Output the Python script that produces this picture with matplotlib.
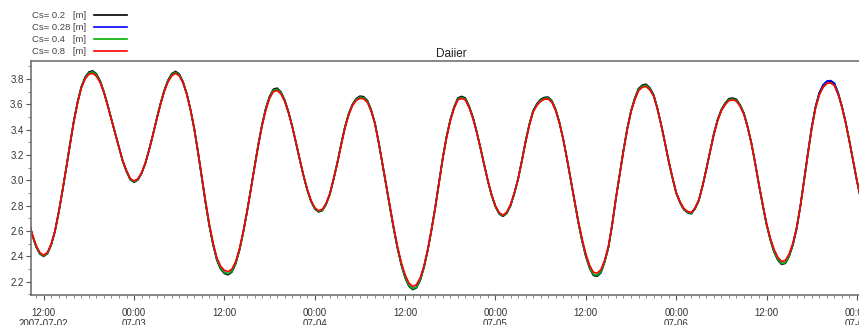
import matplotlib
matplotlib.use('Agg')
import matplotlib.pyplot as plt
import matplotlib.dates as mdates
from matplotlib.ticker import MultipleLocator, FuncFormatter
import pandas as pd

plt.rcParams['font.family'] = ['Liberation Sans', 'DejaVu Sans']

# half-hourly water level, starting 2007-07-02 10:00
start_time = '2007-07-02 10:00'

cs_02 = [2.683, 2.565, 2.476, 2.419, 2.40, 2.422, 2.49, 2.60, 2.75, 2.92, 3.10, 3.29,
         3.47, 3.62, 3.74, 3.815, 3.855, 3.865, 3.841, 3.785, 3.70, 3.594, 3.48, 3.37,
         3.26, 3.15, 3.07, 3.005, 2.985, 3.003, 3.055, 3.136, 3.241, 3.36, 3.485, 3.605,
         3.709, 3.79, 3.842, 3.86, 3.84, 3.78, 3.685, 3.558, 3.406, 3.22, 3.02, 2.82,
         2.64, 2.49, 2.37, 2.30, 2.265, 2.255, 2.277, 2.343, 2.449, 2.588, 2.75, 2.927,
         3.11, 3.284, 3.442, 3.571, 3.664, 3.719, 3.728, 3.699, 3.636, 3.543, 3.428, 3.299,
         3.166, 3.038, 2.925, 2.835, 2.775, 2.751, 2.761, 2.81, 2.89, 3.01, 3.14, 3.285,
         3.42, 3.525, 3.60, 3.645, 3.665, 3.66, 3.63, 3.555, 3.45, 3.295, 3.126, 2.954,
         2.78, 2.613, 2.46, 2.331, 2.231, 2.165, 2.138, 2.152, 2.21, 2.311, 2.446, 2.608,
         2.786, 2.985, 3.18, 3.345, 3.48, 3.58, 3.65, 3.663, 3.65, 3.587, 3.50, 3.386,
         3.257, 3.122, 2.993, 2.879, 2.791, 2.735, 2.716, 2.74, 2.80, 2.895, 3.01, 3.155,
         3.31, 3.445, 3.55, 3.605, 3.64, 3.655, 3.657, 3.628, 3.56, 3.457, 3.324, 3.169,
         3.002, 2.832, 2.668, 2.521, 2.399, 2.308, 2.25, 2.243, 2.27, 2.355, 2.47, 2.65,
         2.86, 3.05, 3.24, 3.41, 3.55, 3.65, 3.725, 3.752, 3.759, 3.73, 3.677, 3.57,
         3.44, 3.30, 3.15, 3.02, 2.90, 2.825, 2.77, 2.745, 2.736, 2.775, 2.84, 2.955,
         3.09, 3.23, 3.37, 3.48, 3.56, 3.61, 3.645, 3.65, 3.64, 3.595, 3.53, 3.42,
         3.29, 3.13, 2.96, 2.80, 2.65, 2.53, 2.434, 2.37, 2.337, 2.345, 2.40, 2.49,
         2.62, 2.80, 3.01, 3.22, 3.42, 3.58, 3.69, 3.75, 3.78, 3.785, 3.765, 3.69,
         3.587, 3.46, 3.31, 3.155, 2.996, 2.855, 2.725]

cs_028 = [2.683, 2.566, 2.478, 2.422, 2.404, 2.425, 2.492, 2.60, 2.75, 2.92, 3.10, 3.287,
          3.467, 3.616, 3.735, 3.808, 3.847, 3.857, 3.833, 3.779, 3.697, 3.593, 3.48, 3.37,
          3.26, 3.152, 3.072, 3.008, 2.989, 3.006, 3.057, 3.136, 3.241, 3.358, 3.483, 3.60,
          3.704, 3.784, 3.835, 3.852, 3.833, 3.775, 3.683, 3.558, 3.406, 3.22, 3.022, 2.823,
          2.644, 2.495, 2.376, 2.307, 2.272, 2.262, 2.283, 2.348, 2.452, 2.59, 2.75, 2.927,
          3.108, 3.28, 3.437, 3.565, 3.657, 3.711, 3.72, 3.692, 3.631, 3.54, 3.428, 3.299,
          3.166, 3.038, 2.926, 2.837, 2.778, 2.755, 2.765, 2.813, 2.891, 3.01, 3.14, 3.283,
          3.418, 3.521, 3.595, 3.638, 3.657, 3.652, 3.623, 3.55, 3.448, 3.295, 3.127, 2.955,
          2.782, 2.616, 2.464, 2.336, 2.237, 2.171, 2.144, 2.158, 2.215, 2.315, 2.448, 2.609,
          2.786, 2.984, 3.177, 3.341, 3.476, 3.574, 3.642, 3.655, 3.642, 3.58, 3.496, 3.384,
          3.257, 3.123, 2.994, 2.881, 2.794, 2.739, 2.72, 2.744, 2.803, 2.897, 3.01, 3.153,
          3.307, 3.441, 3.546, 3.598, 3.632, 3.647, 3.649, 3.621, 3.555, 3.454, 3.324, 3.169,
          3.003, 2.835, 2.671, 2.526, 2.405, 2.315, 2.257, 2.25, 2.277, 2.36, 2.472, 2.651,
          2.86, 3.048, 3.237, 3.406, 3.546, 3.643, 3.717, 3.744, 3.751, 3.722, 3.671, 3.568,
          3.44, 3.30, 3.152, 3.022, 2.902, 2.828, 2.774, 2.749, 2.741, 2.778, 2.842, 2.955,
          3.088, 3.228, 3.366, 3.476, 3.555, 3.603, 3.637, 3.642, 3.632, 3.589, 3.525, 3.418,
          3.29, 3.132, 2.962, 2.804, 2.654, 2.535, 2.44, 2.376, 2.342, 2.35, 2.405, 2.495,
          2.62, 2.80, 3.01, 3.22, 3.42, 3.58, 3.69, 3.752, 3.783, 3.788, 3.768, 3.692,
          3.587, 3.46, 3.31, 3.155, 2.996, 2.855, 2.725]

cs_04 = [2.683, 2.566, 2.478, 2.422, 2.404, 2.425, 2.492, 2.60, 2.75, 2.92, 3.10, 3.287,
         3.467, 3.616, 3.735, 3.808, 3.847, 3.857, 3.833, 3.779, 3.697, 3.593, 3.48, 3.37,
         3.26, 3.152, 3.072, 3.008, 2.989, 3.006, 3.057, 3.136, 3.241, 3.358, 3.483, 3.60,
         3.704, 3.784, 3.835, 3.852, 3.833, 3.775, 3.683, 3.558, 3.406, 3.22, 3.022, 2.823,
         2.644, 2.495, 2.376, 2.307, 2.272, 2.262, 2.283, 2.348, 2.452, 2.59, 2.75, 2.927,
         3.108, 3.28, 3.437, 3.565, 3.657, 3.711, 3.72, 3.692, 3.631, 3.54, 3.428, 3.299,
         3.166, 3.038, 2.926, 2.837, 2.778, 2.755, 2.765, 2.813, 2.891, 3.01, 3.14, 3.283,
         3.418, 3.521, 3.595, 3.638, 3.657, 3.652, 3.623, 3.55, 3.448, 3.295, 3.127, 2.955,
         2.782, 2.616, 2.464, 2.336, 2.237, 2.171, 2.144, 2.158, 2.215, 2.315, 2.448, 2.609,
         2.786, 2.984, 3.177, 3.341, 3.476, 3.574, 3.642, 3.655, 3.642, 3.58, 3.496, 3.384,
         3.257, 3.123, 2.994, 2.881, 2.794, 2.739, 2.72, 2.744, 2.803, 2.897, 3.01, 3.153,
         3.307, 3.441, 3.546, 3.598, 3.632, 3.647, 3.649, 3.621, 3.555, 3.454, 3.324, 3.169,
         3.003, 2.835, 2.671, 2.526, 2.405, 2.315, 2.257, 2.25, 2.277, 2.36, 2.472, 2.651,
         2.86, 3.048, 3.237, 3.406, 3.546, 3.643, 3.717, 3.744, 3.751, 3.722, 3.671, 3.568,
         3.44, 3.30, 3.152, 3.022, 2.902, 2.828, 2.774, 2.749, 2.741, 2.778, 2.842, 2.955,
         3.088, 3.228, 3.366, 3.476, 3.555, 3.603, 3.637, 3.642, 3.632, 3.589, 3.525, 3.418,
         3.29, 3.132, 2.962, 2.804, 2.654, 2.535, 2.44, 2.376, 2.342, 2.35, 2.405, 2.495,
         2.63, 2.80, 3.00, 3.21, 3.41, 3.57, 3.675, 3.735, 3.765, 3.77, 3.75, 3.68,
         3.58, 3.455, 3.31, 3.155, 3.0, 2.86, 2.73]

cs_08 = [2.683, 2.57, 2.486, 2.429, 2.41, 2.432, 2.50, 2.60, 2.75, 2.92, 3.10, 3.28,
         3.46, 3.61, 3.73, 3.80, 3.838, 3.845, 3.822, 3.772, 3.69, 3.59, 3.48, 3.37,
         3.26, 3.155, 3.078, 3.015, 2.995, 3.012, 3.06, 3.136, 3.241, 3.355, 3.48, 3.595,
         3.70, 3.775, 3.825, 3.845, 3.825, 3.77, 3.68, 3.558, 3.406, 3.225, 3.03, 2.835,
         2.655, 2.505, 2.39, 2.322, 2.29, 2.28, 2.30, 2.36, 2.46, 2.595, 2.75, 2.925,
         3.10, 3.275, 3.43, 3.555, 3.648, 3.70, 3.71, 3.683, 3.624, 3.536, 3.428, 3.299,
         3.166, 3.04, 2.93, 2.843, 2.785, 2.761, 2.771, 2.818, 2.895, 3.01, 3.135, 3.275,
         3.41, 3.515, 3.59, 3.63, 3.648, 3.643, 3.615, 3.545, 3.445, 3.295, 3.13, 2.96,
         2.79, 2.625, 2.475, 2.35, 2.255, 2.19, 2.163, 2.177, 2.23, 2.325, 2.455, 2.612,
         2.786, 2.98, 3.17, 3.335, 3.47, 3.568, 3.635, 3.647, 3.635, 3.575, 3.49, 3.38,
         3.257, 3.125, 2.995, 2.885, 2.80, 2.745, 2.726, 2.75, 2.81, 2.90, 3.01, 3.15,
         3.30, 3.435, 3.54, 3.592, 3.625, 3.64, 3.642, 3.615, 3.55, 3.45, 3.324, 3.17,
         3.005, 2.84, 2.68, 2.54, 2.42, 2.33, 2.275, 2.268, 2.295, 2.37, 2.48, 2.655,
         2.86, 3.045, 3.23, 3.40, 3.54, 3.635, 3.708, 3.735, 3.741, 3.714, 3.665, 3.565,
         3.44, 3.30, 3.155, 3.025, 2.905, 2.833, 2.78, 2.755, 2.746, 2.783, 2.845, 2.955,
         3.085, 3.225, 3.36, 3.47, 3.55, 3.597, 3.63, 3.635, 3.625, 3.583, 3.52, 3.415,
         3.29, 3.135, 2.965, 2.81, 2.66, 2.545, 2.455, 2.393, 2.36, 2.368, 2.42, 2.505,
         2.63, 2.80, 3.00, 3.21, 3.41, 3.57, 3.675, 3.735, 3.765, 3.77, 3.75, 3.68,
         3.58, 3.455, 3.31, 3.155, 3.0, 2.86, 2.73]

labels = ['Cs= 0.2   [m]', 'Cs= 0.28 [m]', 'Cs= 0.4   [m]', 'Cs= 0.8   [m]']
colors = ['black', 'blue', '#00b000', 'red']

times = pd.date_range(start_time, periods=len(cs_02), freq='30min')

fig = plt.figure(figsize=(8.59, 3.25), dpi=100)
ax = fig.add_axes([0.0364, 0.0914, 0.9787, 0.72])

for series, lab, col in zip([cs_02, cs_028, cs_04, cs_08], labels, colors):
    ax.plot(times, series, color=col, lw=1.2, label=lab)

ax.set_xlim(pd.Timestamp('2007-07-02 10:21'), pd.Timestamp('2007-07-07 02:00'))
ax.set_ylim(2.093, 3.94)


def fmt_date(x, pos=None):
    d = mdates.num2date(x)
    if d.hour == 0:
        return '00:00\n' + d.strftime('%m-%d')
    if pos == 0:
        return '12:00\n' + d.strftime('%Y-%m-%d')
    return '12:00'


ax.xaxis.set_major_locator(mdates.HourLocator(byhour=[0, 12]))
ax.xaxis.set_minor_locator(mdates.HourLocator())
ax.xaxis.set_major_formatter(FuncFormatter(fmt_date))
ax.yaxis.set_major_locator(MultipleLocator(0.2))
ax.yaxis.set_minor_locator(MultipleLocator(0.1))
ax.yaxis.set_major_formatter(FuncFormatter(lambda v, p: '%.1f' % v))

ax.tick_params(axis='both', which='major', labelsize=7, length=3.5, width=0.8,
               color='#555555', labelcolor='#333333')
ax.tick_params(axis='both', which='minor', length=2, width=0.6, color='#777777')
ax.tick_params(axis='x', which='major', pad=5.5)
ax.tick_params(axis='y', which='major', pad=2)

for s in ax.spines.values():
    s.set_color('#666666')
    s.set_linewidth(1.1)

ax.set_title('Daiier', fontsize=8.5, color='#222222', pad=3)

fig.legend(loc='upper left', bbox_to_anchor=(0.037, 0.965), frameon=False,
           markerfirst=False, fontsize=6.8, handlelength=3.5, handletextpad=0.9,
           labelspacing=0.3, borderpad=0, borderaxespad=0, labelcolor='#444444')

fig.savefig('out.png', dpi=100)
